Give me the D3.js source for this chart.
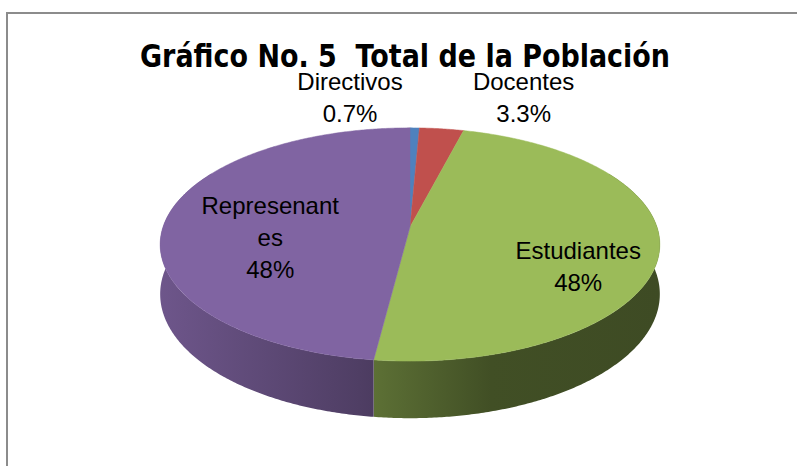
<!DOCTYPE html>
<html>
<head>
<meta charset="utf-8">
<script src="https://cdn.jsdelivr.net/npm/d3@7"></script>
<style>
  body { margin: 0; background: #fff; }
  svg { display: block; }
</style>
</head>
<body>
<div id="chart"></div>
<script>
// data
const categories = ["Directivos", "Docentes", "Estudiantes", "Represenantes"];
const values = [0.7, 3.3, 48, 48];
const valueLabels = ["0.7%", "3.3%", "48%", "48%"];
const colors = ["#4F81BD", "#C0504D", "#9BBB59", "#8064A2"];
const chartTitle = "Gráfico No. 5  Total de la Población";

const width = 797, height = 466;

const svg = d3.select("#chart").append("svg")
    .attr("width", width)
    .attr("height", height);

// chart area border (runs off the right/bottom edge)
svg.append("rect")
    .attr("x", 7).attr("y", 13)
    .attr("width", 820).attr("height", 480)
    .attr("fill", "none")
    .attr("stroke", "#8c8c8c")
    .attr("stroke-width", 2);

// title, squeezed to the narrow look of the original
svg.append("text")
    .attr("x", 405).attr("y", 67)
    .attr("text-anchor", "middle")
    .attr("textLength", 530)
    .attr("lengthAdjust", "spacingAndGlyphs")
    .style("font-family", "'DejaVu Sans', sans-serif")
    .style("font-weight", "bold")
    .style("font-size", "32px")
    .style("white-space", "pre")
    .text(chartTitle);

// 3d pie projection
const cx = 410, cy = 227;
const k = 0.15;            // perspective strength
const rx = 247, ry = 114;  // radius and tilted radius
const depth = 48.5;

const xScale = d3.scaleLinear().domain([-1, 1]).range([cx - rx, cx + rx]);
const yScale = d3.scaleLinear().domain([-1, 1]).range([cy + ry, cy - ry]);

function project(angle, r, drop) {
    const u = r * Math.sin(angle), v = r * Math.cos(angle);
    const w = 1 + k * v;
    return [xScale(u / w), yScale(v / w) + (drop || 0) / w];
}

const pie = d3.pie().sort(null).value(d => d.value);
const arcs = pie(categories.map((c, i) => ({ name: c, value: values[i], label: valueLabels[i], color: colors[i] })));

const line = d3.line().curve(d3.curveLinearClosed);
const step = Math.PI / 360;

function arcPoints(a0, a1, drop) {
    const pts = [];
    const n = Math.max(2, Math.ceil((a1 - a0) / step));
    for (let j = 0; j <= n; j++) pts.push(project(a0 + (a1 - a0) * j / n, 1, drop));
    return pts;
}

// side gradients
const defs = svg.append("defs");
const shade = [[0, 0.86], [0.4, 0.62], [0.66, 0.42], [1, 0.40]];
arcs.forEach((d, i) => {
    const base = d3.rgb(d.data.color);
    const g = defs.append("linearGradient")
        .attr("id", "side" + i)
        .attr("gradientUnits", "userSpaceOnUse")
        .attr("x1", cx - rx - 5).attr("x2", cx + rx + 5)
        .attr("y1", 0).attr("y2", 0);
    shade.forEach(([o, f]) => {
        g.append("stop")
            .attr("offset", o)
            .attr("stop-color", d3.rgb(base.r * f, base.g * f, base.b * f).formatHex());
    });
});

// sides (front half only)
const frontA = Math.PI / 3, frontB = Math.PI * 5 / 3;
const sides = svg.append("g");
arcs.forEach((d, i) => {
    const a0 = Math.max(d.startAngle, frontA), a1 = Math.min(d.endAngle, frontB);
    if (a1 <= a0) return;
    const pts = arcPoints(a0, a1, 0).concat(arcPoints(a0, a1, depth).reverse());
    sides.append("path")
        .attr("d", line(pts))
        .attr("fill", `url(#side${i})`);
});

// top faces
const tops = svg.append("g");
arcs.forEach(d => {
    const pts = [project(0, 0, 0)].concat(arcPoints(d.startAngle, d.endAngle, 0));
    tops.append("path")
        .attr("d", line(pts))
        .attr("fill", d.data.color)
        .attr("stroke", d.data.color)
        .attr("stroke-width", 0.5);
});

// labels
const lineH = 32;
const labels = svg.append("g")
    .style("font-family", "'Liberation Sans', Arial, sans-serif")
    .style("font-size", "24px")
    .attr("fill", "#000");

function wrapName(name, maxW) {
    const tmp = labels.append("text").text(name);
    if (tmp.node().getComputedTextLength() <= maxW) { tmp.remove(); return [name]; }
    const out = [];
    let cur = "";
    for (const ch of name) {
        tmp.text(cur + ch);
        if (tmp.node().getComputedTextLength() > maxW && cur) { out.push(cur); cur = ch; }
        else cur += ch;
    }
    out.push(cur);
    tmp.remove();
    return out;
}

const insideR = [0, 0, 0.68, 0.57];
arcs.forEach((d, i) => {
    let x, y0;
    const lines = wrapName(d.data.name, 145).concat([d.data.label]);
    if (d.data.value < 10) {
        // small slices: labels pushed apart above the pie
        x = i === 0 ? project(d.startAngle, 1, 0)[0] - 60
                    : project(d.endAngle, 1, 0)[0] + 60;
        y0 = 90;
    } else {
        const mid = (d.startAngle + d.endAngle) / 2;
        const p = project(mid, insideR[i], depth / 2);
        x = p[0];
        y0 = p[1] - (lines.length - 1) * 25 + 17;
    }
    const t = labels.append("text").attr("text-anchor", "middle");
    lines.forEach((s, j) => {
        t.append("tspan").attr("x", x).attr("y", y0 + j * lineH).text(s);
    });
});
</script>
</body>
</html>
